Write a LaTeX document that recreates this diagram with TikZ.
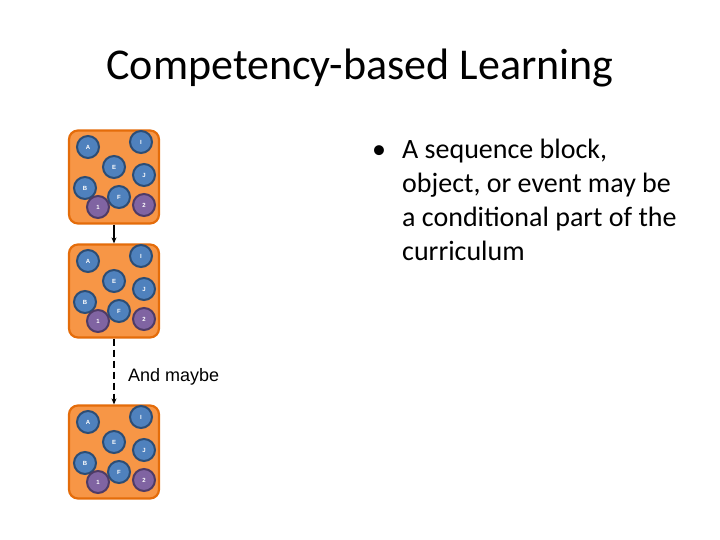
\documentclass[tikz,border=0pt]{standalone}
\usepackage{fontspec}
\setmainfont{Carlito}
\newfontfamily\arialfont{Liberation Sans}
\usetikzlibrary{arrows.meta}

\definecolor{blockfill}{HTML}{F79646}
\definecolor{blockline}{HTML}{E46C0A}
\definecolor{dotblue}{HTML}{4F81BD}
\definecolor{dotblueline}{HTML}{2C4D75}
\definecolor{dotpurple}{HTML}{8064A2}
\definecolor{dotpurpleline}{HTML}{4E3B66}

\tikzset{
  seqblock/.style={draw=blockline, fill=blockfill, line width=2.2pt, rounded corners=9pt,
    minimum width=90pt, minimum height=93pt, inner sep=0pt},
  bluedot/.style={circle, draw=dotblueline, fill=dotblue, line width=2pt, minimum size=22pt,
    inner sep=0pt, text=white, font=\arialfont\bfseries\fontsize{6}{7}\selectfont},
  purpledot/.style={bluedot, draw=dotpurpleline, fill=dotpurple},
}

\begin{document}
\begin{tikzpicture}[x=1pt, y=-1pt]
  \useasboundingbox (0,0) rectangle (720,540);

  \node (title) at (360,68) {\fontsize{44}{53}\selectfont Competency-based Learning};

  % the three sequence blocks
  \foreach \b/\cy in {1/177,2/291,3/452} {
    \node[seqblock] (blk\b) at (114,\cy) {};
    \foreach \n/\dx/\dy/\s in {A/-26/-30/bluedot, I/27/-35/bluedot, E/0/-10/bluedot,
        J/30/-2/bluedot, B/-29/11/bluedot, F/5/20/bluedot, 1/-16/30/purpledot, 2/30/28/purpledot}
      \node[\s] (c\b\n) at (114+\dx,\cy+\dy) {\n};
  }

  \draw[line width=1.3pt, -{Stealth[length=6pt,width=5pt]}] (blk1.south) -- (blk2.north);
  \draw[line width=1.3pt, dash pattern=on 7pt off 4pt, -{Stealth[length=6pt,width=5pt]}] (blk2.south) -- (blk3.north);

  \node[anchor=base west, inner sep=0pt, font=\arialfont\fontsize{18}{21}\selectfont] (maybe) at (128,381) {And maybe};

  % base of this node is its last line
  \node[anchor=base west, inner sep=0pt, align=left, font=\fontsize{28}{34}\selectfont] (bullet) at (372,260)
    {\textbullet\hspace{16pt}A sequence block,\\
     \hspace{30pt}object, or event may be\\
     \hspace{30pt}a conditional part of the\\
     \hspace{30pt}curriculum};
\end{tikzpicture}
\end{document}
